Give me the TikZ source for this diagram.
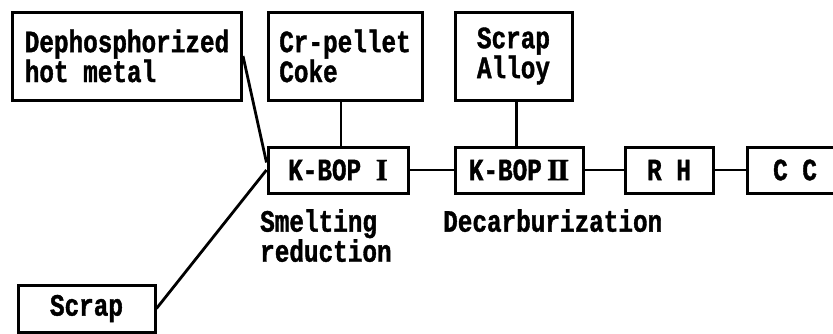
\documentclass[tikz,border=0pt]{standalone}
\usepackage{fontspec}
\setmainfont{Liberation Mono}[FakeStretch=0.785, BoldFeatures={FakeBold=1.2}]
\newfontfamily\numfont{Liberation Serif}[BoldFeatures={FakeBold=1}]
\newcommand{\rnum}[1]{{\numfont #1}}

\begin{document}
\begin{tikzpicture}[x=1pt, y=-1pt,
  font=\fontsize{31}{26}\selectfont\bfseries,
  box/.style={draw, line width=3pt, inner sep=0pt, align=left},
  lbl/.style={inner sep=0pt, anchor=north west, align=left},
  link/.style={line width=2.8pt}]
  \useasboundingbox (0,0) rectangle (833,333);
  % inputs
  \node[box, minimum width=229pt, minimum height=88pt] (dephos) at (127,56) {Dephosphorized\\hot metal};
  \node[box, minimum width=154pt, minimum height=88pt] (crpellet) at (345,56) {Cr-pellet\\Coke};
  \node[box, minimum width=117pt, minimum height=88pt] (scrapalloy) at (513.5,56) {Scrap\\Alloy};
  \node[box, minimum width=137pt, minimum height=47pt] (scrap) at (86.5,308.5) {Scrap};
  % process line
  \node[box, minimum width=140pt, minimum height=46pt] (kbop1) at (338,170) {K-BOP \rnum{I}};
  \node[box, minimum width=128pt, minimum height=46pt] (kbop2) at (519,170) {K-BOP\,\rnum{I\kern-2pt I}};
  \node[box, minimum width=88pt, minimum height=46pt] (rh) at (669,170) {R H};
  \node[box, minimum width=96pt, minimum height=46pt] (cc) at (795,170) {C C};
  % stage names
  \node[lbl] (smelt) at (260,209) {Smelting\\reduction};
  \node[lbl] (decarb) at (443,209) {Decarburization};
  % connections
  \draw[link] (dephos.east) -- (kbop1.174);
  \draw[link] (scrap.east) -- (kbop1.west);
  \draw[link] ([xshift=-4pt]crpellet.south) -- ([xshift=-4pt]crpellet.south |- kbop1.north);
  \draw[link] ([xshift=3pt]scrapalloy.south) -- ([xshift=3pt]scrapalloy.south |- kbop2.north);
  \draw[link] (kbop1) -- (kbop2) -- (rh) -- (cc);
\end{tikzpicture}
\end{document}
